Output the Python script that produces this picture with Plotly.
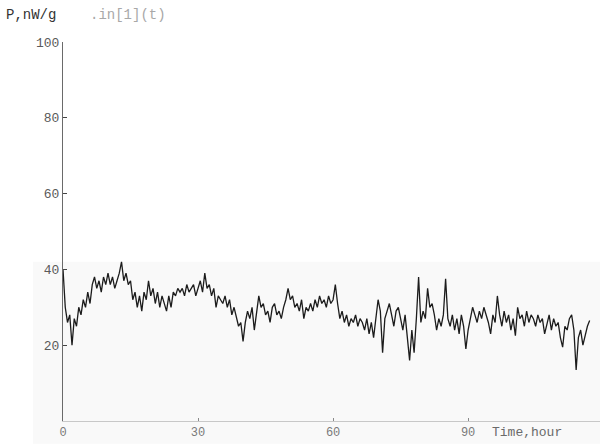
import numpy as np
import plotly.graph_objects as go

# Heat-flow record P(t), nW/g, sampled every half hour
dt_hours = 0.5
power = [
    40, 30, 26, 28, 20, 27, 25, 30, 28, 32,          # 0 - 5 h
    30, 34, 31, 36, 38, 35, 37, 34, 38, 36,          # 5 - 10 h
    39, 36, 38, 35, 37, 39, 42, 37, 39, 36,          # 10 - 15 h
    37, 32, 34, 30, 33, 29, 34, 32, 37, 33,          # 15 - 20 h
    35, 31, 34, 30, 33, 31, 29, 33, 30, 34,          # 20 - 25 h
    33, 35, 34, 35, 33, 36, 34, 35, 36, 33,          # 25 - 30 h
    35, 37, 34, 39, 35, 36, 33, 35, 30, 33,          # 30 - 35 h
    32, 31, 33, 30, 32, 28, 30, 27, 25, 26,          # 35 - 40 h
    21, 26, 29, 27, 30, 24, 29, 33, 30, 31,          # 40 - 45 h
    28, 29, 26, 30, 31, 28, 29, 27, 30, 32,          # 45 - 50 h
    35, 32, 33, 30, 31, 29, 32, 27, 30, 29,          # 50 - 55 h
    31, 29, 32, 30, 33, 31, 32, 30, 33, 31,          # 55 - 60 h
    32, 36, 31, 27, 29, 26, 28, 25, 27, 26,          # 60 - 65 h
    28, 25, 27, 26, 24, 27, 23, 26, 22, 27,          # 65 - 70 h
    32, 29, 18, 27, 29, 31, 28, 25, 29, 30,          # 70 - 75 h
    27, 24, 28, 22, 16, 24, 18, 27, 38, 26,          # 75 - 80 h
    29, 27, 35, 30, 31, 28, 24, 27, 25, 28,          # 80 - 85 h
    37.5, 27, 25, 28, 24, 27, 23, 28, 25, 19,        # 85 - 90 h
    24, 27, 30, 28, 26, 29, 27, 30, 28, 26,          # 90 - 95 h
    23, 28, 26, 33, 28, 25, 29, 26, 28, 24,          # 95 - 100 h
    27, 22.5, 30, 27, 28, 25, 29, 26, 28, 27,        # 100 - 105 h
    25, 28, 26, 27, 23, 26, 28, 24, 27, 25,          # 105 - 110 h
    26, 22, 19.5, 25, 24, 27, 28, 24, 13.5, 22,      # 110 - 115 h
    24, 20, 23, 25, 26.5,                            # 115 - 117 h
]
time_hours = np.arange(len(power)) * dt_hours

x_ticks = [0, 30, 60, 90]
y_ticks = [20, 40, 60, 80, 100]

mono = "Liberation Mono"
axis_grey = "#8a8a8a"
label_grey = "#5a5a5a"

fig = go.Figure()
fig.add_trace(go.Scatter(
    x=time_hours, y=power, mode="lines",
    line=dict(color="#1c1c1c", width=1.3),
    showlegend=False, hoverinfo="skip",
))

# faint paper tone over the lower part of the sheet
fig.add_shape(type="rect", xref="paper", yref="paper",
              x0=-0.056, x1=1.0, y0=-0.06, y1=0.42,
              fillcolor="#f9f9f9", line=dict(width=0), layer="below")

fig.update_layout(
    width=600, height=444,
    margin=dict(l=63, r=0, t=42, b=23),
    paper_bgcolor="white", plot_bgcolor="rgba(0,0,0,0)",
    font=dict(family=mono, size=12, color=label_grey),
)
fig.update_xaxes(
    range=[0, 119.3], tickvals=x_ticks, ticktext=[str(v) for v in x_ticks],
    showgrid=False, zeroline=False, showline=True, linecolor="#c8c8c8", linewidth=1,
    ticks="inside", ticklen=3, tickcolor=axis_grey, automargin=False,
    tickfont=dict(family=mono, size=12, color="#7a7a7a"),
)
fig.update_yaxes(
    range=[0, 100], tickvals=y_ticks, ticktext=[str(v) for v in y_ticks],
    showgrid=False, zeroline=False, showline=True, linecolor="#6a6a6a", linewidth=1.2,
    ticks="inside", ticklen=4, tickcolor="#444", automargin=False,
    tickfont=dict(family=mono, size=13, color=label_grey),
)

fig.add_annotation(text="P,nW/g", xref="paper", yref="paper",
                   x=-0.11, y=1.07, xanchor="left", yanchor="middle",
                   showarrow=False, font=dict(family=mono, size=14, color="#333"))
fig.add_annotation(text=".in[1](t)", xref="paper", yref="paper",
                   x=0.046, y=1.07, xanchor="left", yanchor="middle",
                   showarrow=False, font=dict(family=mono, size=14, color="#a8a8a8"))
fig.add_annotation(text="Time,hour", xref="paper", yref="paper",
                   x=0.795, y=-0.03, xanchor="left", yanchor="middle",
                   showarrow=False, font=dict(family=mono, size=13, color="#6a6a6a"))

fig.write_html("out.html")
